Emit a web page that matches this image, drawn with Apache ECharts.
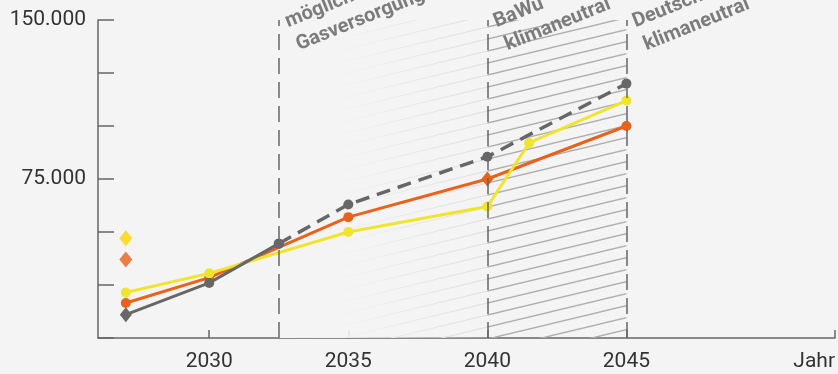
<!DOCTYPE html>
<html>
<head>
<meta charset="utf-8">
<script src="https://cdn.jsdelivr.net/npm/echarts@6/dist/echarts.min.js"></script>
<style>
  html, body { margin: 0; padding: 0; background: #f4f4f4; }
  #chart { width: 838px; height: 374px; }
</style>
</head>
<body>
<div id="chart"></div>
<script>
// Axis range and tick positions (years)
const xMin = 2026;
const xMax = 2052.5;
const tickYears = [2030, 2035, 2040, 2045];
const yTickLabels = [75000, 150000];

// Grey scenario: solid part up to the gas milestone, dashed afterwards
const grayYearsSolid = [2027, 2030, 2032.5];
const grayValuesSolid = [11000, 26000, 44500];
const grayYearsDashed = [2032.5, 2035, 2040, 2045];
const grayValuesDashed = [44500, 63000, 85500, 120000];

// Orange scenario
const orangeYears = [2027, 2030, 2035, 2040, 2045];
const orangeValues = [16500, 28500, 57000, 75000, 100000];

// Yellow scenario
const yellowYears = [2027, 2030, 2035, 2040, 2041.5, 2045];
const yellowValues = [21500, 30500, 50000, 62000, 92000, 112000];

// Single reference markers in the start year
const yellowSingleYear = [2027];
const yellowSingleValue = [47000];
const orangeSingleYear = [2027];
const orangeSingleValue = [37000];

// Milestones (dashed verticals) and their captions
const milestoneYears = [2032.5, 2040, 2045];
const milestoneLabels = [
  ['mögliches Ende', 'Gasversorgung'],
  ['BaWü', 'klimaneutral'],
  ['Deutschland', 'klimaneutral']
];

const GRAY = '#676767';
const ORANGE = '#e8621c';
const YELLOW = '#f0e42c';
const BG = '#f4f4f4';

function fmt(v) {
  return String(v).replace(/\B(?=(\d{3})+(?!\d))/g, '.');
}

function pairs(xs, ys, symbols) {
  return xs.map((x, i) => {
    const d = { value: [x, ys[i]] };
    if (symbols && symbols[i] === 'diamond') {
      d.symbol = 'diamond';
      d.symbolSize = [12, 15];
    }
    return d;
  });
}

// Diagonal hatch tile used to fill the milestone periods
function hatch(color, width) {
  const w = 50, h = 12;
  const c = document.createElement('canvas');
  c.width = w; c.height = h;
  const g = c.getContext('2d');
  g.strokeStyle = color;
  g.lineWidth = width;
  for (const off of [-h, 0, h]) {
    g.beginPath();
    g.moveTo(0, h + off);
    g.lineTo(w, off);
    g.stroke();
  }
  return c;
}

const chart = echarts.init(document.getElementById('chart'), null, { renderer: 'canvas' });

const font = 'Roboto, "Noto Sans", sans-serif';

chart.setOption({
  backgroundColor: BG,
  animation: false,
  grid: { left: 98, right: 2, top: 20, bottom: 36, containLabel: false },
  xAxis: {
    type: 'value',
    min: xMin,
    max: xMax,
    name: 'Jahr',
    nameLocation: 'end',
    nameGap: 0,
    nameTextStyle: {
      align: 'right', verticalAlign: 'top', padding: [13, 0, 0, 0],
      fontSize: 21, color: '#333', fontFamily: font
    },
    axisLine: { lineStyle: { color: '#666', width: 1.5 } },
    axisTick: { inside: true, length: 8, lineStyle: { color: '#666', width: 1.5 },
      customValues: tickYears.concat([xMax]) },
    axisLabel: { customValues: tickYears, formatter: v => String(v),
      fontSize: 21, color: '#333', fontFamily: font, margin: 13 },
    splitLine: { show: false }
  },
  yAxis: {
    type: 'value',
    min: 0,
    max: 150000,
    interval: 25000,
    axisLine: { show: true, lineStyle: { color: '#666', width: 1.5 } },
    axisTick: { show: true, inside: true, length: 16, lineStyle: { color: '#666', width: 1.5 } },
    axisLabel: {
      formatter: v => (yTickLabels.indexOf(v) >= 0 ? fmt(v) : ''),
      fontSize: 21, color: '#333', fontFamily: font, margin: 12
    },
    splitLine: { show: false }
  },
  series: [
    {
      // hatched periods
      type: 'line', data: [], z: 1, silent: true,
      markArea: {
        silent: true,
        data: [
          [{ xAxis: milestoneYears[0], itemStyle: { color: { image: hatch('#dcdcdc', 1.2), repeat: 'repeat' } } },
           { xAxis: milestoneYears[1] }],
          [{ xAxis: milestoneYears[1], itemStyle: { color: { image: hatch('#adadad', 1.3), repeat: 'repeat' } } },
           { xAxis: milestoneYears[2] }]
        ]
      }
    },
    {
      // fade-in of the first hatched period
      type: 'line', data: [], z: 1.5, silent: true,
      markArea: {
        silent: true,
        data: [
          [{ xAxis: milestoneYears[0], itemStyle: { color: {
              type: 'linear', x: 0, y: 0, x2: 1, y2: 0,
              colorStops: [
                { offset: 0, color: 'rgba(244,244,244,1)' },
                { offset: 0.28, color: 'rgba(244,244,244,0.95)' },
                { offset: 1, color: 'rgba(244,244,244,0.1)' }
              ] } } },
           { xAxis: milestoneYears[1] }]
        ]
      }
    },
    {
      // dashed milestone verticals
      type: 'line', data: [], z: 2, silent: true,
      markLine: {
        silent: true,
        symbol: ['none', 'none'],
        label: { show: false },
        lineStyle: { color: '#666', width: 1.5, type: [16, 8] },
        data: milestoneYears.map(y => ({ xAxis: y }))
      }
    },
    {
      name: 'orange', type: 'line', z: 3,
      data: pairs(orangeYears, orangeValues, ['circle', 'circle', 'circle', 'diamond', 'circle']),
      symbol: 'circle', symbolSize: 10,
      lineStyle: { color: ORANGE, width: 3 },
      itemStyle: { color: ORANGE }
    },
    {
      name: 'yellow', type: 'line', z: 4,
      data: pairs(yellowYears, yellowValues),
      symbol: 'circle', symbolSize: 10,
      lineStyle: { color: YELLOW, width: 3 },
      itemStyle: { color: YELLOW }
    },
    {
      name: 'gray', type: 'line', z: 5,
      data: pairs(grayYearsSolid, grayValuesSolid, ['diamond', 'circle', 'circle']),
      symbol: 'circle', symbolSize: 10,
      lineStyle: { color: GRAY, width: 3 },
      itemStyle: { color: GRAY }
    },
    {
      name: 'gray-outlook', type: 'line', z: 5,
      data: pairs(grayYearsDashed, grayValuesDashed),
      symbol: 'circle', symbolSize: 10,
      lineStyle: { color: GRAY, width: 3.5, type: [14, 8] },
      itemStyle: { color: GRAY }
    },
    {
      type: 'scatter', z: 5,
      data: pairs(yellowSingleYear, yellowSingleValue),
      symbol: 'diamond', symbolSize: [13, 16],
      itemStyle: { color: '#ffd500' }
    },
    {
      type: 'scatter', z: 5,
      data: pairs(orangeSingleYear, orangeSingleValue),
      symbol: 'diamond', symbolSize: [13, 16],
      itemStyle: { color: '#ea5f1a' }
    }
  ]
});

// Rotated captions next to each milestone line
const captionRot = 22 * Math.PI / 180;
const lineOffsets = [[11, 32], [22, 55]];
const graphics = [];
milestoneYears.forEach((yr, i) => {
  const px = chart.convertToPixel({ gridIndex: 0 }, [yr, 0])[0];
  milestoneLabels[i].forEach((txt, j) => {
    graphics.push({
      type: 'text',
      x: px + lineOffsets[j][0],
      y: lineOffsets[j][1],
      rotation: captionRot,
      silent: true,
      z: 10,
      style: {
        text: txt,
        fill: '#7c7c7c',
        font: 'bold 20px Roboto, "Noto Sans", sans-serif',
        textAlign: 'left',
        textVerticalAlign: 'bottom'
      }
    });
  });
});
chart.setOption({ graphic: graphics });
</script>
</body>
</html>
